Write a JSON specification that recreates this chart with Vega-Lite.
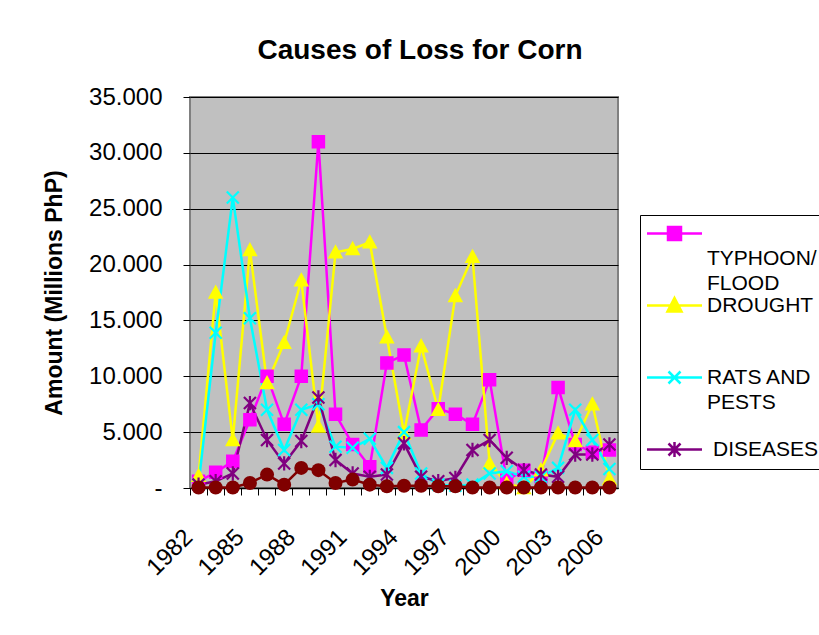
{
  "$schema": "https://vega.github.io/schema/vega-lite/v6.json",
  "autosize": "none",
  "width": 428,
  "height": 391,
  "padding": {"left": 190, "top": 97, "right": 201, "bottom": 147},
  "background": "white",
  "title": {"text": "Causes of Loss for Corn", "fontSize": 28, "fontWeight": "bold", "font": "Liberation Sans", "color": "black", "anchor": "middle", "offset": 20, "dx": 16},
  "datasets": {
    "main": [
      {"year": 1982, "series": "TYPHOON/FLOOD", "value": 0.6}, {"year": 1982, "series": "DROUGHT", "value": 1.1}, {"year": 1982, "series": "RATS AND PESTS", "value": 0.3}, {"year": 1982, "series": "DISEASES", "value": 0.3},
      {"year": 1983, "series": "TYPHOON/FLOOD", "value": 1.4}, {"year": 1983, "series": "DROUGHT", "value": 17.5}, {"year": 1983, "series": "RATS AND PESTS", "value": 13.9}, {"year": 1983, "series": "DISEASES", "value": 0.6},
      {"year": 1984, "series": "TYPHOON/FLOOD", "value": 2.4}, {"year": 1984, "series": "DROUGHT", "value": 4.3}, {"year": 1984, "series": "RATS AND PESTS", "value": 26.0}, {"year": 1984, "series": "DISEASES", "value": 1.3},
      {"year": 1985, "series": "TYPHOON/FLOOD", "value": 6.1}, {"year": 1985, "series": "DROUGHT", "value": 21.3}, {"year": 1985, "series": "RATS AND PESTS", "value": 15.2}, {"year": 1985, "series": "DISEASES", "value": 7.6},
      {"year": 1986, "series": "TYPHOON/FLOOD", "value": 10.0}, {"year": 1986, "series": "DROUGHT", "value": 9.4}, {"year": 1986, "series": "RATS AND PESTS", "value": 7.0}, {"year": 1986, "series": "DISEASES", "value": 4.3},
      {"year": 1987, "series": "TYPHOON/FLOOD", "value": 5.7}, {"year": 1987, "series": "DROUGHT", "value": 13.0}, {"year": 1987, "series": "RATS AND PESTS", "value": 3.4}, {"year": 1987, "series": "DISEASES", "value": 2.2},
      {"year": 1988, "series": "TYPHOON/FLOOD", "value": 10.0}, {"year": 1988, "series": "DROUGHT", "value": 18.6}, {"year": 1988, "series": "RATS AND PESTS", "value": 7.0}, {"year": 1988, "series": "DISEASES", "value": 4.2},
      {"year": 1989, "series": "TYPHOON/FLOOD", "value": 31.0}, {"year": 1989, "series": "DROUGHT", "value": 5.5}, {"year": 1989, "series": "RATS AND PESTS", "value": 7.5}, {"year": 1989, "series": "DISEASES", "value": 8.1},
      {"year": 1990, "series": "TYPHOON/FLOOD", "value": 6.6}, {"year": 1990, "series": "DROUGHT", "value": 21.1}, {"year": 1990, "series": "RATS AND PESTS", "value": 3.7}, {"year": 1990, "series": "DISEASES", "value": 2.5},
      {"year": 1991, "series": "TYPHOON/FLOOD", "value": 3.9}, {"year": 1991, "series": "DROUGHT", "value": 21.4}, {"year": 1991, "series": "RATS AND PESTS", "value": 3.6}, {"year": 1991, "series": "DISEASES", "value": 1.3},
      {"year": 1992, "series": "TYPHOON/FLOOD", "value": 1.9}, {"year": 1992, "series": "DROUGHT", "value": 22.0}, {"year": 1992, "series": "RATS AND PESTS", "value": 4.4}, {"year": 1992, "series": "DISEASES", "value": 1.0},
      {"year": 1993, "series": "TYPHOON/FLOOD", "value": 11.2}, {"year": 1993, "series": "DROUGHT", "value": 13.5}, {"year": 1993, "series": "RATS AND PESTS", "value": 1.8}, {"year": 1993, "series": "DISEASES", "value": 1.2},
      {"year": 1994, "series": "TYPHOON/FLOOD", "value": 11.9}, {"year": 1994, "series": "DROUGHT", "value": 4.9}, {"year": 1994, "series": "RATS AND PESTS", "value": 5.0}, {"year": 1994, "series": "DISEASES", "value": 4.0},
      {"year": 1995, "series": "TYPHOON/FLOOD", "value": 5.2}, {"year": 1995, "series": "DROUGHT", "value": 12.7}, {"year": 1995, "series": "RATS AND PESTS", "value": 1.3}, {"year": 1995, "series": "DISEASES", "value": 1.0},
      {"year": 1996, "series": "TYPHOON/FLOOD", "value": 7.1}, {"year": 1996, "series": "DROUGHT", "value": 7.0}, {"year": 1996, "series": "RATS AND PESTS", "value": 0.3}, {"year": 1996, "series": "DISEASES", "value": 0.6},
      {"year": 1997, "series": "TYPHOON/FLOOD", "value": 6.6}, {"year": 1997, "series": "DROUGHT", "value": 17.2}, {"year": 1997, "series": "RATS AND PESTS", "value": 0.2}, {"year": 1997, "series": "DISEASES", "value": 0.9},
      {"year": 1998, "series": "TYPHOON/FLOOD", "value": 5.7}, {"year": 1998, "series": "DROUGHT", "value": 20.7}, {"year": 1998, "series": "RATS AND PESTS", "value": 0.3}, {"year": 1998, "series": "DISEASES", "value": 3.4},
      {"year": 1999, "series": "TYPHOON/FLOOD", "value": 9.7}, {"year": 1999, "series": "DROUGHT", "value": 2.2}, {"year": 1999, "series": "RATS AND PESTS", "value": 1.3}, {"year": 1999, "series": "DISEASES", "value": 4.3},
      {"year": 2000, "series": "TYPHOON/FLOOD", "value": 0.7}, {"year": 2000, "series": "DROUGHT", "value": 0.4}, {"year": 2000, "series": "RATS AND PESTS", "value": 1.5}, {"year": 2000, "series": "DISEASES", "value": 2.7},
      {"year": 2001, "series": "TYPHOON/FLOOD", "value": 1.6}, {"year": 2001, "series": "DROUGHT", "value": 0.0}, {"year": 2001, "series": "RATS AND PESTS", "value": 1.0}, {"year": 2001, "series": "DISEASES", "value": 1.6},
      {"year": 2002, "series": "TYPHOON/FLOOD", "value": 1.0}, {"year": 2002, "series": "DROUGHT", "value": 1.6}, {"year": 2002, "series": "RATS AND PESTS", "value": 1.0}, {"year": 2002, "series": "DISEASES", "value": 1.2},
      {"year": 2003, "series": "TYPHOON/FLOOD", "value": 9.0}, {"year": 2003, "series": "DROUGHT", "value": 4.9}, {"year": 2003, "series": "RATS AND PESTS", "value": 1.8}, {"year": 2003, "series": "DISEASES", "value": 1.0},
      {"year": 2004, "series": "TYPHOON/FLOOD", "value": 3.9}, {"year": 2004, "series": "DROUGHT", "value": 4.2}, {"year": 2004, "series": "RATS AND PESTS", "value": 7.0}, {"year": 2004, "series": "DISEASES", "value": 3.0},
      {"year": 2005, "series": "TYPHOON/FLOOD", "value": 3.2}, {"year": 2005, "series": "DROUGHT", "value": 7.5}, {"year": 2005, "series": "RATS AND PESTS", "value": 4.3}, {"year": 2005, "series": "DISEASES", "value": 3.0},
      {"year": 2006, "series": "TYPHOON/FLOOD", "value": 3.4}, {"year": 2006, "series": "DROUGHT", "value": 0.8}, {"year": 2006, "series": "RATS AND PESTS", "value": 1.7}, {"year": 2006, "series": "DISEASES", "value": 3.9}
    ],
    "other": [
      {"year": 1982, "value": 0.05}, {"year": 1983, "value": 0.05}, {"year": 1984, "value": 0.05}, {"year": 1985, "value": 0.45},
      {"year": 1986, "value": 1.2}, {"year": 1987, "value": 0.3}, {"year": 1988, "value": 1.8}, {"year": 1989, "value": 1.6},
      {"year": 1990, "value": 0.45}, {"year": 1991, "value": 0.75}, {"year": 1992, "value": 0.3}, {"year": 1993, "value": 0.15},
      {"year": 1994, "value": 0.2}, {"year": 1995, "value": 0.2}, {"year": 1996, "value": 0.15}, {"year": 1997, "value": 0.15},
      {"year": 1998, "value": 0.05}, {"year": 1999, "value": 0.05}, {"year": 2000, "value": 0.05}, {"year": 2001, "value": 0.05},
      {"year": 2002, "value": 0.05}, {"year": 2003, "value": 0.05}, {"year": 2004, "value": 0.05}, {"year": 2005, "value": 0.05},
      {"year": 2006, "value": 0.05}
    ]
  },
  "encoding": {
    "x": {
      "field": "year", "type": "ordinal",
      "scale": {"type": "band", "paddingInner": 0, "paddingOuter": 0},
      "axis": {
        "title": "Year", "titleFont": "Liberation Sans", "titleFontSize": 23, "titleFontWeight": "bold", "titleColor": "black", "titlePadding": 8,
        "bandPosition": 0, "labelAngle": -45, "labelAlign": "right", "labelBaseline": "top", "labelPadding": 30, "labelOffset": -18,
        "labelFont": "Liberation Sans", "labelFontSize": 24, "labelColor": "black", "labelOverlap": false,
        "labelExpr": "(datum.value - 1982) % 3 == 0 ? datum.label : ''",
        "tickSize": 7, "tickColor": "black", "tickWidth": 1, "domainColor": "black", "domainWidth": 1.5, "grid": false
      }
    },
    "y": {
      "field": "value", "type": "quantitative",
      "scale": {"domain": [0, 35], "nice": false},
      "axis": {
        "title": "Amount (Millions PhP)", "titleFont": "Liberation Sans", "titleFontSize": 23, "titleFontWeight": "bold", "titleColor": "black", "titlePadding": 22,
        "values": [0, 5, 10, 15, 20, 25, 30, 35],
        "labelExpr": "datum.value == 0 ? '-' : format(datum.value, '.3f')",
        "labelFont": "Liberation Sans", "labelFontSize": 24, "labelColor": "black", "labelPadding": 21,
        "tickSize": 7, "tickColor": "black", "domain": false, "grid": true, "gridColor": "black", "gridWidth": 1
      }
    }
  },
  "layer": [
    {
      "data": {"name": "main"},
      "mark": {"type": "line", "strokeWidth": 2.5},
      "encoding": {
        "color": {
          "field": "series", "type": "nominal",
          "scale": {"domain": ["TYPHOON/FLOOD", "DROUGHT", "RATS AND PESTS", "DISEASES"], "range": ["#FF00FF", "#FFFF00", "#00FFFF", "#800080"]},
          "legend": {
            "title": null, "orient": "none", "legendX": 450, "legendY": 118, "padding": 7,
            "strokeColor": "black", "fillColor": "white", "symbolSize": 400, "symbolOffset": 16,
            "labelFont": "Liberation Sans", "labelFontSize": 21, "labelColor": "black", "labelLimit": 400, "labelOffset": 21,
            "rowPadding": -4,
            "labelExpr": "datum.label == 'TYPHOON/FLOOD' ? ['', 'TYPHOON/', 'FLOOD'] : datum.label == 'DROUGHT' ? ['DROUGHT', '', ''] : datum.label == 'RATS AND PESTS' ? ['RATS AND', 'PESTS', ''] : 'DISEASES'",
            "encode": {
              "symbols": {"update": {
                "shape": {"signal": "datum.value == 'TYPHOON/FLOOD' ? 'M-2.75,0H2.75M-0.65,-0.65H0.65V0.65H-0.65Z' : datum.value == 'DROUGHT' ? 'M-2.75,0H2.75M0,-0.75L0.7,0.6L-0.7,0.6Z' : datum.value == 'RATS AND PESTS' ? 'M-2.75,0H2.75M-0.6,-0.6L0.6,0.6M0.6,-0.6L-0.6,0.6' : 'M-2.75,0H2.75M-0.6,-0.6L0.6,0.6M0.6,-0.6L-0.6,0.6M0,-0.75V0.75'"},
                "fill": {"signal": "scale('color', datum.value)"},
                "stroke": {"signal": "scale('color', datum.value)"},
                "strokeWidth": {"value": 2.5},
                "opacity": {"value": 1}, "fillOpacity": {"value": 1}, "strokeOpacity": {"value": 1}
              }},
              "labels": {"update": {
                "dx": {"signal": "datum.label == 'DISEASES' ? 6 : 0"},
                "lineHeight": {"value": 25}
              }}
            }
          }
        }
      }
    },
    {
      "data": {"name": "main"},
      "transform": [{"filter": "datum.series == 'TYPHOON/FLOOD'"}],
      "mark": {"type": "point", "filled": true, "opacity": 1, "strokeWidth": 1.5, "shape": "M-1,-1H1V1H-1Z", "fill": "#FF00FF", "stroke": "#FF00FF", "size": 144}
    },
    {
      "data": {"name": "main"},
      "transform": [{"filter": "datum.series == 'DROUGHT'"}],
      "mark": {"type": "point", "filled": true, "opacity": 1, "strokeWidth": 1.5, "shape": "M0,-1L1,0.85L-1,0.85Z", "fill": "#FFFF00", "stroke": "#FFFF00", "size": 169}
    },
    {
      "data": {"name": "main"},
      "transform": [{"filter": "datum.series == 'RATS AND PESTS'"}],
      "mark": {"type": "point", "filled": true, "opacity": 1, "strokeWidth": 2.2, "shape": "M-1,-1L1,1M1,-1L-1,1", "fill": "#00FFFF", "stroke": "#00FFFF", "size": 144}
    },
    {
      "data": {"name": "main"},
      "transform": [{"filter": "datum.series == 'DISEASES'"}],
      "mark": {"type": "point", "filled": true, "opacity": 1, "strokeWidth": 2.2, "shape": "M-1,-1L1,1M1,-1L-1,1M0,-1.2V1.2", "fill": "#800080", "stroke": "#800080", "size": 144}
    },
    {
      "data": {"name": "other"},
      "mark": {"type": "line", "strokeWidth": 2.5, "color": "#800000"},
      "encoding": {}
    },
    {
      "data": {"name": "other"},
      "mark": {"type": "point", "shape": "circle", "filled": true, "opacity": 1, "color": "#800000", "size": 196},
      "encoding": {}
    }
  ],
  "config": {
    "font": "Liberation Sans",
    "view": {"fill": "#C0C0C0", "stroke": "#808080", "strokeWidth": 2}
  }
}
